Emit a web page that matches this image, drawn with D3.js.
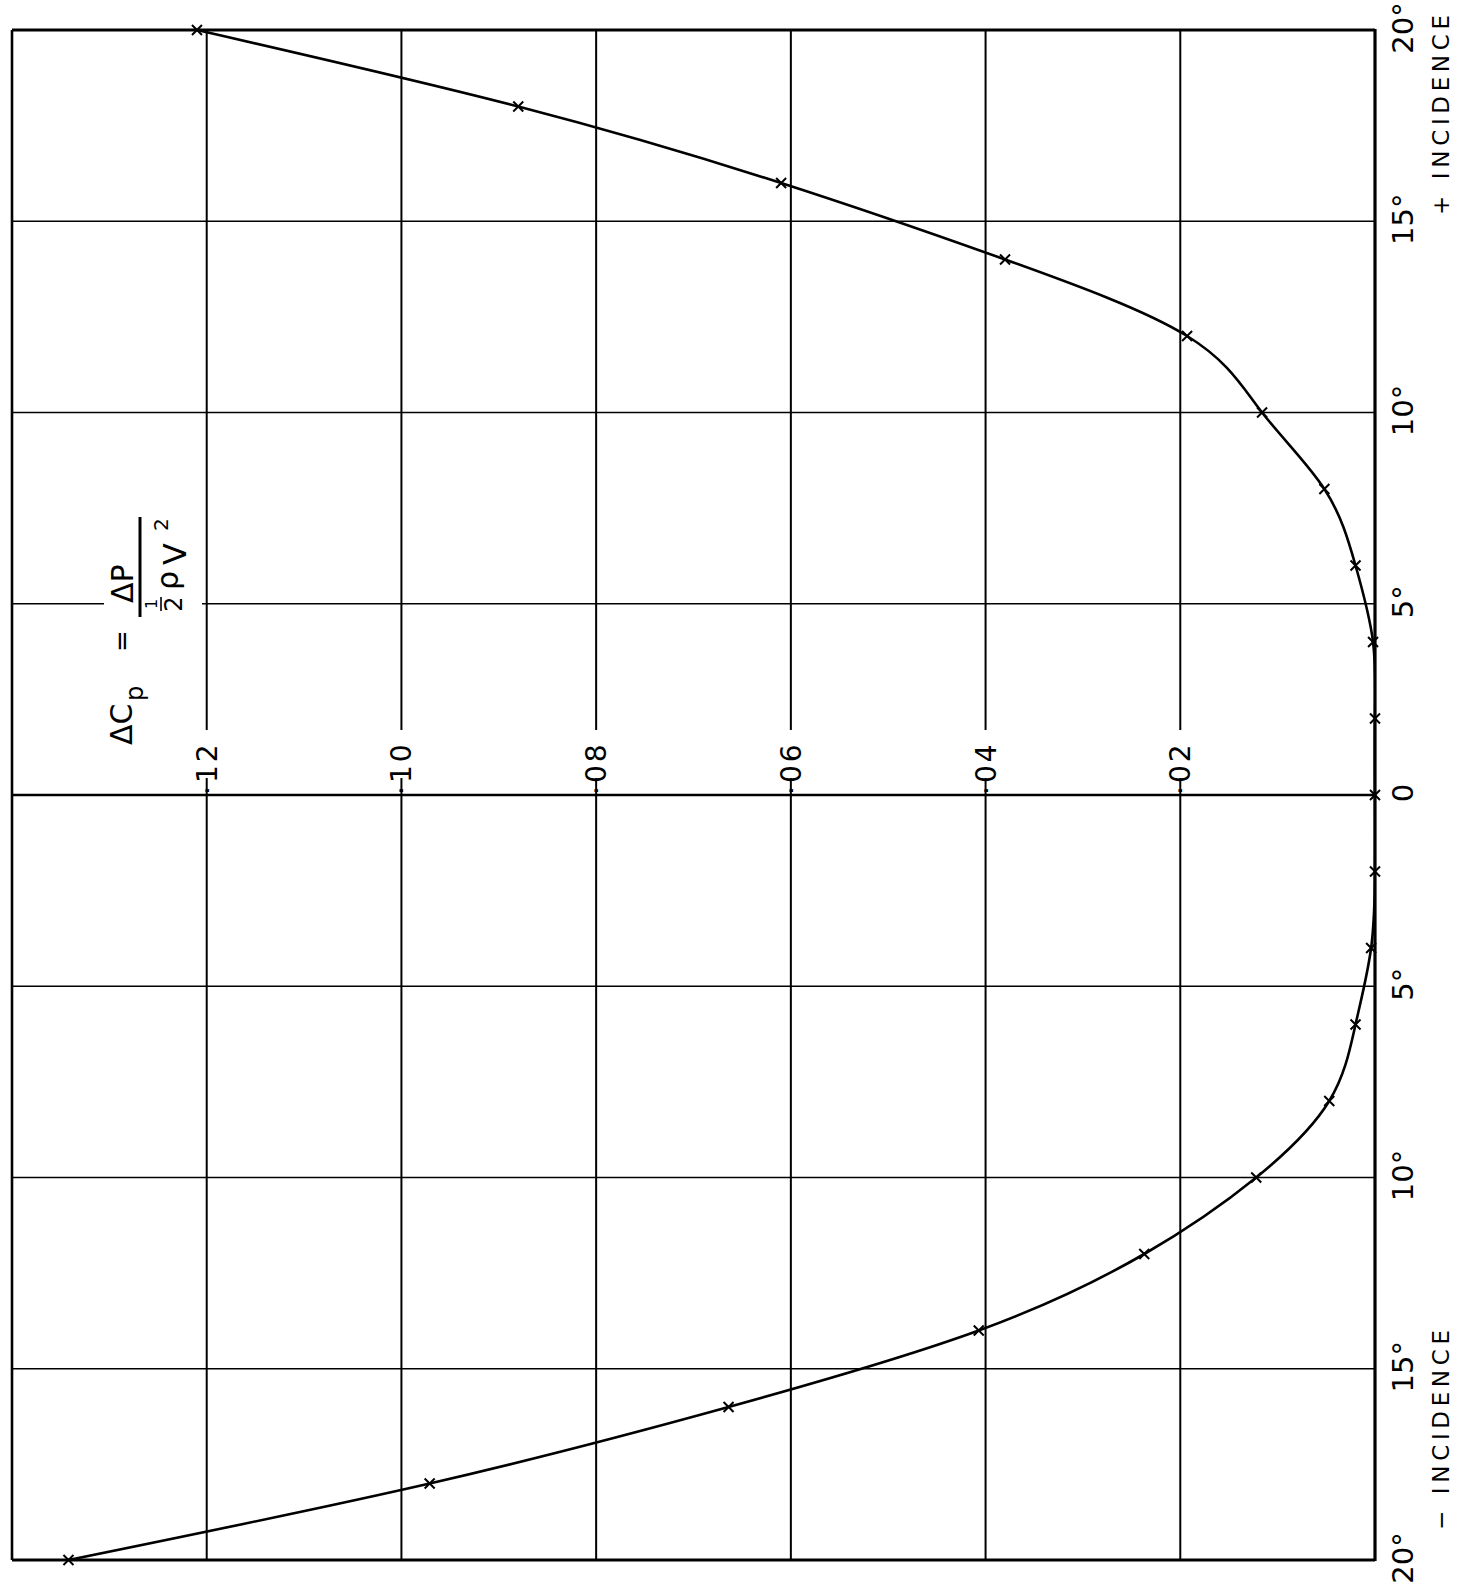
<!DOCTYPE html>
<html>
<head>
<meta charset="utf-8">
<script src="https://cdn.jsdelivr.net/npm/d3@7"></script>
<style>
  body { margin: 0; background: #fff; }
  svg { display: block; }
</style>
</head>
<body>
<div id="chart"></div>
<script>
// incidence (deg) and measured ΔCp
const incidence = [20, 18, 16, 14, 12, 10, 8, 6, 4, 2, 0, -2, -4, -6, -8, -10, -12, -14, -16, -18, -20];
const deltaCp = [0.121, 0.088, 0.061, 0.038, 0.0193, 0.0116, 0.0052, 0.002, 0.0002, 0, 0, 0, 0.0004, 0.002, 0.0047, 0.0122, 0.0237, 0.0407, 0.0664, 0.0971, 0.1342];

const cpTicks = [0.02, 0.04, 0.06, 0.08, 0.10, 0.12];
const cpLabels = ["·02", "·04", "·06", "·08", "·10", "·12"];
const incTicks = [20, 15, 10, 5, 0, -5, -10, -15, -20];
const incLabels = ["20°", "15°", "10°", "5°", "0", "5°", "10°", "15°", "20°"];

const W = 1463, H = 1591;
const font = "'DejaVu Sans', sans-serif";
const ink = "#000";

const svg = d3.select("#chart").append("svg")
    .attr("width", W).attr("height", H)
    .style("font-family", font);

svg.append("rect").attr("width", W).attr("height", H).attr("fill", "#fff");

const x = d3.scaleLinear().domain([0, 0.14]).range([1375, 12]);
const y = d3.scaleLinear().domain([20, -20]).range([30, 1560]);

svg.append("clipPath").attr("id", "plot")
  .append("rect").attr("x", x(0.14)).attr("y", y(20)).attr("width", x(0) - x(0.14)).attr("height", y(-20) - y(20));

const grid = svg.append("g");

// horizontal lines (incidence)
grid.selectAll("line.h").data(incTicks).join("line")
    .attr("x1", x(0.14)).attr("x2", x(0))
    .attr("y1", d => y(d)).attr("y2", d => y(d))
    .attr("stroke", ink)
    .attr("stroke-width", d => d === 0 ? 2.6 : (Math.abs(d) === 20 ? 2.8 : 1.5));

// vertical lines (ΔCp)
grid.selectAll("line.v").data(cpTicks).join("line")
    .attr("x1", d => x(d)).attr("x2", d => x(d))
    .attr("y1", y(20)).attr("y2", y(-20))
    .attr("stroke", ink).attr("stroke-width", 2);

// left border and zero axis
grid.append("line").attr("x1", x(0.14)).attr("x2", x(0.14))
    .attr("y1", y(20)).attr("y2", y(-20)).attr("stroke", ink).attr("stroke-width", 2.6);
grid.append("line").attr("x1", x(0)).attr("x2", x(0))
    .attr("y1", y(20) - 1).attr("y2", y(-20) + 1).attr("stroke", ink).attr("stroke-width", 3.2);

// white ground for the formula (breaks the 5° line)
svg.append("rect").attr("x", 104).attr("y", 500).attr("width", 98).attr("height", 255).attr("fill", "#fff");

// ΔCp tick labels, rotated, sitting on the zero line
const cpLab = svg.append("g").selectAll("g").data(cpTicks).join("g");
cpLab.append("rect")
    .attr("x", d => x(d) - 14).attr("y", 730)
    .attr("width", 28).attr("height", 48)
    .attr("fill", "#fff");
cpLab.append("text")
    .attr("transform", d => `translate(${x(d) + 10},795) rotate(-90)`)
    .attr("font-size", 28)
    .attr("letter-spacing", 3)
    .attr("fill", ink)
    .text((d, i) => cpLabels[i]);

// incidence labels on the right
svg.append("g").selectAll("text").data(incTicks).join("text")
    .attr("transform", d => `translate(1413,${y(d) - 2}) rotate(-90)`)
    .attr("text-anchor", "middle")
    .attr("font-size", 29)
    .attr("fill", ink)
    .text((d, i) => incLabels[i]);

svg.append("text")
    .attr("transform", "translate(1449,215) rotate(-90)")
    .attr("font-size", 23).attr("textLength", 200).attr("lengthAdjust", "spacing")
    .attr("fill", ink).text("+ INCIDENCE");
svg.append("text")
    .attr("transform", "translate(1449,1530) rotate(-90)")
    .attr("font-size", 23).attr("textLength", 200).attr("lengthAdjust", "spacing")
    .attr("fill", ink).text("− INCIDENCE");

// formula ΔCp = ΔP / ½ρV²
const f = svg.append("g").attr("transform", "translate(132,745) rotate(-90)").attr("fill", ink);
f.append("text").attr("x", 0).attr("y", 0).attr("font-size", 30).text("ΔC");
f.append("text").attr("x", 44).attr("y", 11).attr("font-size", 24).text("p");
f.append("text").attr("x", 93).attr("y", -1).attr("font-size", 26).text("=");
f.append("text").attr("x", 142).attr("y", 1).attr("font-size", 30).text("ΔP");
f.append("line").attr("x1", 128).attr("x2", 228).attr("y1", 8).attr("y2", 8)
    .attr("stroke", ink).attr("stroke-width", 3);
f.append("text").attr("x", 141).attr("y", 25).attr("font-size", 16).attr("text-anchor", "middle").text("1");
f.append("line").attr("x1", 134).attr("x2", 148).attr("y1", 29).attr("y2", 29)
    .attr("stroke", ink).attr("stroke-width", 1.6);
f.append("text").attr("x", 141).attr("y", 50).attr("font-size", 24).attr("text-anchor", "middle").text("2");
f.append("text").attr("x", 155).attr("y", 46).attr("font-size", 30).text("ρ");
f.append("text").attr("x", 180).attr("y", 54).attr("font-size", 32).text("V");
f.append("text").attr("x", 214).attr("y", 36).attr("font-size", 20).text("2");

// curve
const pts = incidence.map((d, i) => ({ inc: d, cp: deltaCp[i] }));
const line = d3.line()
    .x(d => x(d.cp))
    .y(d => y(d.inc))
    .curve(d3.curveNatural);

svg.append("path").datum(pts)
    .attr("clip-path", "url(#plot)")
    .attr("fill", "none").attr("stroke", ink).attr("stroke-width", 2.6)
    .attr("d", line);

// x markers
const s = 5;
svg.append("g").selectAll("path").data(pts).join("path")
    .attr("transform", d => `translate(${x(d.cp)},${y(d.inc)})`)
    .attr("d", `M${-s},${-s}L${s},${s}M${-s},${s}L${s},${-s}`)
    .attr("stroke", ink).attr("stroke-width", 2).attr("fill", "none");
</script>
</body>
</html>
